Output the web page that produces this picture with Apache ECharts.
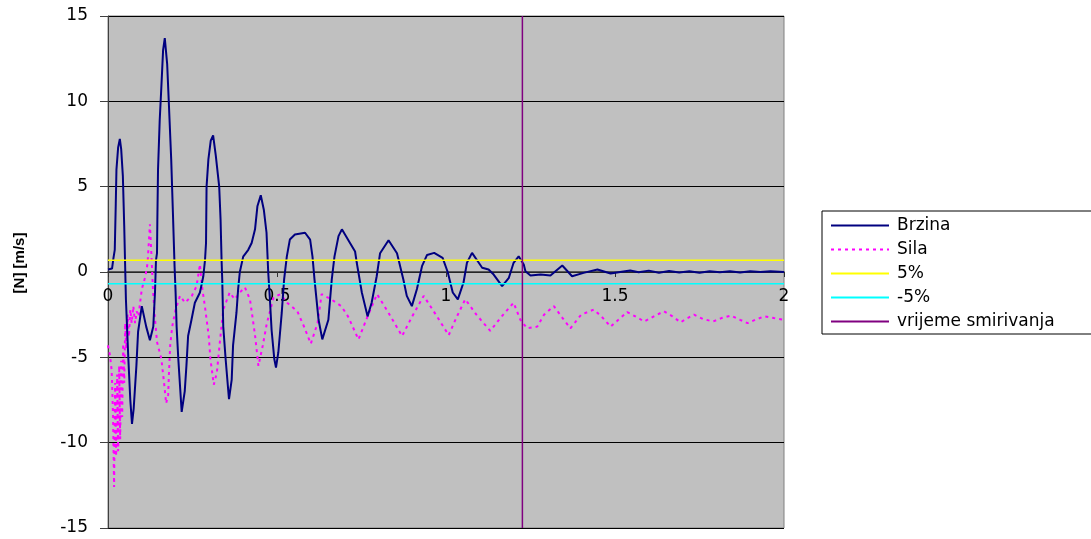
<!DOCTYPE html>
<html>
<head>
<meta charset="utf-8">
<script src="https://cdn.jsdelivr.net/npm/echarts@6/dist/echarts.min.js"></script>
<style>
html,body{margin:0;padding:0;background:#fff;}
#chart{width:1091px;height:539px;}
</style>
</head>
<body>
<div id="chart"></div>
<script>
// ---- data ----
const brzinaT = [0,0.012,0.016,0.02,0.023,0.025,0.03,0.035,0.039,0.044,0.048,0.053,0.06,0.066,0.071,0.076,0.084,0.089,0.1,0.113,0.124,0.134,0.139,0.142,0.145,0.146,0.148,0.153,0.158,0.163,0.168,0.175,0.18,0.187,0.192,0.197,0.2,0.203,0.208,0.218,0.222,0.227,0.232,0.237,0.247,0.257,0.272,0.282,0.287,0.29,0.2916,0.297,0.304,0.311,0.319,0.329,0.333,0.336,0.338,0.341,0.348,0.356,0.358,0.366,0.37,0.38,0.385,0.39,0.4,0.415,0.425,0.435,0.442,0.452,0.461,0.469,0.474,0.479,0.484,0.492,0.497,0.504,0.514,0.521,0.529,0.538,0.553,0.583,0.598,0.605,0.611,0.623,0.634,0.652,0.662,0.67,0.682,0.692,0.716,0.731,0.736,0.751,0.768,0.78,0.795,0.805,0.83,0.855,0.874,0.884,0.899,0.914,0.929,0.944,0.965,0.99,1.005,1.02,1.035,1.052,1.062,1.077,1.097,1.107,1.126,1.141,1.166,1.186,1.2,1.215,1.23,1.235,1.25,1.28,1.309,1.344,1.373,1.407,1.448,1.487,1.52,1.545,1.57,1.6,1.63,1.66,1.69,1.72,1.75,1.78,1.81,1.84,1.87,1.9,1.93,1.96,2.0];
const brzinaV = [0.15,0.2,0.8,1.3,4.0,6.0,7.3,7.8,7.2,5.6,2.7,-1.6,-5.0,-7.5,-8.9,-8.0,-5.5,-3.5,-2.0,-3.2,-4.0,-3.2,-1.2,0.7,1.1,3.0,6.0,8.9,10.9,13.0,13.7,12.2,9.9,6.6,3.5,0.3,-1.2,-3.2,-5.1,-8.2,-8.3,-7.0,-5.5,-3.75,-2.8,-1.8,-1.2,-0.25,0.7,1.7,5.0,6.6,7.7,8.0,6.8,5.0,3.1,0.7,-0.45,-3.2,-5.1,-7.0,-7.45,-6.3,-4.3,-2.4,-1.0,0,0.9,1.3,1.7,2.5,3.85,4.5,3.65,2.3,0,-1.6,-3.4,-5.1,-5.6,-4.7,-2.4,-0.45,0.9,1.9,2.2,2.3,1.9,0.9,-0.45,-2.8,-3.95,-2.8,-0.45,0.9,2.1,2.5,1.7,1.2,0.54,-1.2,-2.6,-1.8,-0.25,1.1,1.86,1.1,-0.45,-1.4,-2.0,-1.0,0.34,1.0,1.12,0.83,0,-1.2,-1.6,-0.6,0.54,1.12,0.54,0.25,0.15,-0.15,-0.83,-0.34,0.54,0.92,0.44,0.05,-0.2,-0.15,-0.2,0.38,-0.25,-0.05,0.15,-0.09,0.02,0.09,-0.02,0.08,-0.04,0.06,-0.03,0.05,-0.04,0.05,-0.02,0.04,-0.03,0.05,0.0,0.04,0.0];

const silaT = [0,0.006,0.011,0.015,0.018,0.021,0.024,0.027,0.030,0.033,0.036,0.039,0.042,0.045,0.048,0.051,0.054,0.058,0.062,0.066,0.07,0.075,0.08,0.085,0.09,0.095,0.1,0.11,0.117,0.121,0.124,0.128,0.133,0.138,0.145,0.158,0.167,0.172,0.178,0.18,0.184,0.19,0.2,0.213,0.228,0.248,0.262,0.272,0.278,0.288,0.298,0.303,0.313,0.322,0.331,0.341,0.36,0.375,0.39,0.405,0.42,0.435,0.445,0.458,0.47,0.49,0.51,0.53,0.56,0.58,0.6,0.62,0.632,0.66,0.69,0.71,0.741,0.77,0.796,0.83,0.87,0.9,0.934,0.97,1.008,1.03,1.057,1.09,1.131,1.165,1.2,1.22,1.24,1.27,1.29,1.319,1.345,1.368,1.4,1.437,1.46,1.487,1.51,1.536,1.56,1.586,1.615,1.645,1.67,1.694,1.715,1.734,1.76,1.79,1.815,1.843,1.87,1.892,1.915,1.941,1.97,2.0];
const silaV = [-4.3,-4.9,-5.8,-8.5,-12.6,-6.5,-10.8,-6.0,-10.5,-5.5,-9.8,-5.2,-8.5,-4.2,-6.5,-3.0,-4.5,-2.5,-3.8,-2.2,-3.0,-2.0,-3.0,-2.3,-2.6,-1.8,-1.0,-0.3,0.5,1.8,2.8,1.2,-1.0,-2.5,-4.1,-5.1,-6.7,-7.7,-7.2,-6.1,-4.3,-3.2,-2.2,-1.4,-1.8,-1.4,-0.83,0.45,-0.83,-2.2,-3.75,-5.1,-6.6,-5.9,-4.1,-2.2,-1.2,-1.6,-1.2,-0.9,-1.6,-3.7,-5.5,-4.3,-3.0,-1.5,-1.3,-1.8,-2.3,-3.2,-4.2,-3.0,-1.3,-1.6,-2.0,-2.6,-3.95,-2.5,-1.3,-2.4,-3.75,-2.6,-1.4,-2.5,-3.7,-2.7,-1.6,-2.5,-3.45,-2.6,-1.8,-2.8,-3.3,-3.2,-2.5,-2.0,-2.7,-3.3,-2.5,-2.2,-2.6,-3.2,-2.8,-2.35,-2.6,-2.9,-2.6,-2.3,-2.6,-2.95,-2.7,-2.5,-2.75,-2.9,-2.7,-2.55,-2.8,-3.0,-2.8,-2.6,-2.7,-2.8];

const prag5 = 0.69;        // 5%
const pragMinus5 = -0.69;  // -5%
const tSmirivanja = 1.226; // vrijeme smirivanja
const xRange = [0, 2];
const yRange = [-15, 15];
const seriesNames = ['Brzina', 'Sila', '5%', '-5%', 'vrijeme smirivanja'];
const yAxisTitle = '[N] [m/s]';

const zip = (a, b) => a.map((v, i) => [v, b[i]]);

const gridTop = 16, gridBottom = 11, chartH = 539;
const plotH = chartH - gridTop - gridBottom;
// x axis drawn through y = 0 (middle of the symmetric y range)
const xAxisOffset = -plotH * (0 - yRange[0]) / (yRange[1] - yRange[0]);

const chart = echarts.init(document.getElementById('chart'), null, {renderer: 'canvas'});
const font = 'DejaVu Sans';
chart.setOption({
  animation: false,
  backgroundColor: '#ffffff',
  grid: {
    left: 108, right: 307, top: gridTop, bottom: gridBottom,
    show: true, backgroundColor: '#c0c0c0', borderColor: '#808080', borderWidth: 1
  },
  legend: {
    orient: 'vertical', left: 822, top: 211,
    padding: [6, 40, 4, 8],
    itemWidth: 58, itemHeight: 14, itemGap: 7,
    borderColor: '#000', borderWidth: 1, backgroundColor: '#ffffff',
    itemStyle: {opacity: 0, color: 'transparent', borderColor: 'transparent'},
    textStyle: {fontFamily: font, fontSize: 17, color: '#000', padding: [0, 0, 0, 3]},
    data: seriesNames
  },
  xAxis: {
    type: 'value', min: xRange[0], max: xRange[1], interval: 0.5,
    position: 'bottom', offset: xAxisOffset,
    axisLine: {onZero: false, lineStyle: {color: '#333', width: 1.5}},
    axisTick: {show: true, length: 5, lineStyle: {color: '#333'}},
    axisLabel: {fontFamily: font, fontSize: 17, color: '#000', margin: 16},
    splitLine: {show: false}
  },
  yAxis: {
    type: 'value', min: yRange[0], max: yRange[1], interval: 5,
    axisLine: {show: true, onZero: false, lineStyle: {color: '#404040', width: 1}},
    axisTick: {show: true, length: 8, lineStyle: {color: '#404040'}},
    axisLabel: {fontFamily: font, fontSize: 17, color: '#000', margin: 20},
    splitLine: {show: true, lineStyle: {color: '#000', width: 1}}
  },
  graphic: [{
    type: 'text', x: 20, y: 263, rotation: Math.PI / 2,
    style: {text: yAxisTitle, fontFamily: 'Liberation Sans', fontWeight: 'bold', fontSize: 15,
            fill: '#000', align: 'center', verticalAlign: 'middle'}
  }],
  series: [
    {name: seriesNames[0], type: 'line', symbol: 'none', data: zip(brzinaT, brzinaV),
     lineStyle: {color: '#000080', width: 2}, itemStyle: {color: '#000080'}, z: 3},
    {name: seriesNames[1], type: 'line', symbol: 'none', data: zip(silaT, silaV),
     lineStyle: {color: '#ff00ff', width: 2, type: [3, 4]}, itemStyle: {color: '#ff00ff'}, z: 2},
    {name: seriesNames[2], type: 'line', symbol: 'none', data: [[xRange[0], prag5], [xRange[1], prag5]],
     lineStyle: {color: '#ffff00', width: 1.5}, itemStyle: {color: '#ffff00'}, z: 4},
    {name: seriesNames[3], type: 'line', symbol: 'none', data: [[xRange[0], pragMinus5], [xRange[1], pragMinus5]],
     lineStyle: {color: '#00ffff', width: 1.5}, itemStyle: {color: '#00ffff'}, z: 4},
    {name: seriesNames[4], type: 'line', symbol: 'none', data: [[tSmirivanja, yRange[0]], [tSmirivanja, yRange[1]]],
     lineStyle: {color: '#800080', width: 1.5}, itemStyle: {color: '#800080'}, z: 5}
  ]
});
</script>
</body>
</html>
